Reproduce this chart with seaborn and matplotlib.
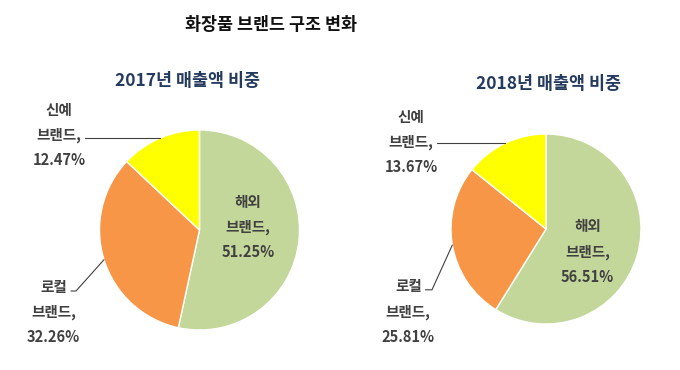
import numpy as np
import matplotlib
matplotlib.use("Agg")
import matplotlib.pyplot as plt
import seaborn as sns

# data
brands = ["해외", "로컬", "신예"]
share_2017 = [51.25, 32.26, 12.47]
share_2018 = [56.51, 25.81, 13.67]
years = ["2017", "2018"]
colors = ["#C4D79B", "#F79646", "#FFFF00"]

sns.set_theme(style="white")
plt.rcParams['font.family'] = ['Noto Sans CJK KR', 'DejaVu Sans']

W, H = 680, 370
fig = plt.figure(figsize=(W / 100, H / 100), dpi=100)
fig.patch.set_facecolor("white")

TXT = "#404040"


def pie_axes(cx, cy, r):
    return fig.add_axes([(cx - r) / W, (H - cy - r) / H, 2 * r / W, 2 * r / H])


def draw_pie(ax, values, year, title_xy, inner_xy, new_xy, new_line_x, loc_xy, loc_line):
    ax.pie(values, colors=sns.color_palette(colors), startangle=90, counterclock=False,
           radius=1, wedgeprops=dict(edgecolor="white", linewidth=1))
    ax.set_xlim(-1, 1)
    ax.set_ylim(-1, 1)
    ax.axis("off")

    total = sum(values)
    fracs = np.array(values) / total
    # wedge mid-angles (clockwise from 90 deg)
    ends = 90 - 360 * np.cumsum(fracs)
    starts = ends + 360 * fracs
    mids = np.deg2rad((starts + ends) / 2)

    labels = [f"{b}\n브랜드,\n{v:.2f}%" for b, v in zip(brands, values)]
    kw = dict(ha="center", va="center", color=TXT, fontsize=10.5, fontweight="bold",
              linespacing=1.7, clip_on=False)

    ax.text(*inner_xy, labels[0], **kw)
    ax.text(*new_xy, labels[2], **kw)
    ax.text(*loc_xy, labels[1], **kw)

    # 신예 leader: horizontal to pie edge
    px, py = np.cos(mids[2]), np.sin(mids[2])
    ax.plot([new_line_x, px], [py, py], color=TXT, lw=0.8, clip_on=False)
    # 로컬 leader: short horizontal then diagonal
    qx, qy = np.cos(mids[1]), np.sin(mids[1])
    x0, x1, y0 = loc_line
    ax.plot([x0, x1, qx], [y0, y0, qy], color=TXT, lw=0.8, clip_on=False)

    fig.text(title_xy[0] / W, 1 - title_xy[1] / H, f"{year}년 매출액 비중",
             ha="center", va="center", fontsize=12.5, fontweight="bold", color="#243B5E")


ax1 = pie_axes(199.5, 230, 100)
draw_pie(ax1, share_2017, years[0], (187, 81),
         inner_xy=(0.485, 0.03), new_xy=(-1.405, 0.95), new_line_x=-1.145,
         loc_xy=(-1.46, -0.82), loc_line=(-1.285, -1.235, -0.61))

ax2 = pie_axes(546, 229, 95)
draw_pie(ax2, share_2018, years[1], (549, 84),
         inner_xy=(0.437, -0.24), new_xy=(-1.42, 0.916), new_line_x=-1.147,
         loc_xy=(-1.45, -0.87), loc_line=(-1.27, -1.2, -0.64))

fig.text(271 / W, 1 - 25 / H, "화장품 브랜드 구조 변화", ha="center", va="center",
         fontsize=12.5, fontweight="bold", color="#111111")

fig.savefig("out.png", dpi=100, facecolor="white")
